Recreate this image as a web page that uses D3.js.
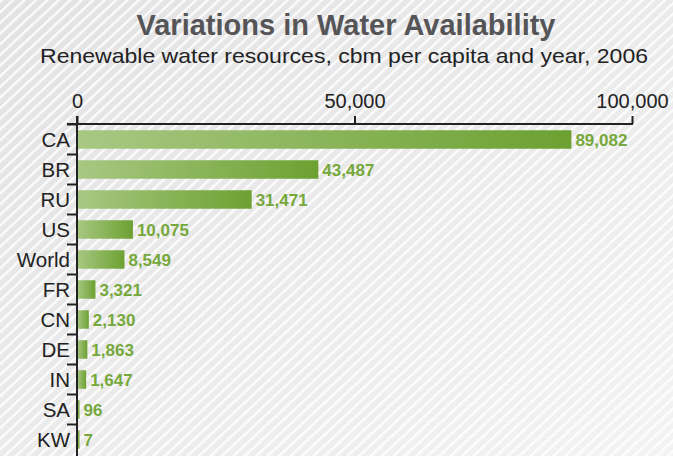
<!DOCTYPE html>
<html>
<head>
<meta charset="utf-8">
<script src="https://cdn.jsdelivr.net/npm/d3@7"></script>
<style>
  html, body { margin: 0; padding: 0; background: #e8e8ea; }
  svg { display: block; }
</style>
</head>
<body>
<svg id="chart" width="673" height="456"></svg>
<script>
const categories = ["CA", "BR", "RU", "US", "World", "FR", "CN", "DE", "IN", "SA", "KW"];
const values = [89082, 43487, 31471, 10075, 8549, 3321, 2130, 1863, 1647, 96, 7];
const tickValues = [0, 50000, 100000];
const title = "Variations in Water Availability";
const subtitle = "Renewable water resources, cbm per capita and year, 2006";

const W = 673, H = 456;
const svg = d3.select("#chart");
const defs = svg.append("defs");

// background gradient + stripes
const bg = defs.append("linearGradient").attr("id", "bgGrad")
  .attr("x1", 0).attr("y1", 0).attr("x2", 1).attr("y2", 1);
bg.append("stop").attr("offset", 0).attr("stop-color", "#e2e2e4");
bg.append("stop").attr("offset", 1).attr("stop-color", "#f3f3f3");

const pat = defs.append("pattern").attr("id", "stripes")
  .attr("patternUnits", "userSpaceOnUse")
  .attr("width", 7.8).attr("height", 10)
  .attr("patternTransform", "rotate(47)");
pat.append("rect").attr("x", 0).attr("y", 0).attr("width", 2.4).attr("height", 10)
  .attr("fill", "#ffffff").attr("fill-opacity", 0.85);

svg.append("rect").attr("width", W).attr("height", H).attr("fill", "url(#bgGrad)");
svg.append("rect").attr("width", W).attr("height", H).attr("fill", "url(#stripes)");

const barGrad = defs.append("linearGradient").attr("id", "barGrad")
  .attr("x1", 0).attr("y1", 0).attr("x2", 1).attr("y2", 0);
barGrad.append("stop").attr("offset", 0).attr("stop-color", "#a8c883");
barGrad.append("stop").attr("offset", 1).attr("stop-color", "#6ca131");

// titles
svg.append("text").attr("x", 346).attr("y", 35)
  .attr("text-anchor", "middle")
  .style("font-family", "'Liberation Sans', Arial, sans-serif")
  .style("font-weight", "bold").style("font-size", "29px")
  .attr("fill", "#555558").text(title);

svg.append("text").attr("x", 344).attr("y", 63)
  .attr("text-anchor", "middle")
  .attr("textLength", 608).attr("lengthAdjust", "spacingAndGlyphs")
  .style("font-family", "'Liberation Sans', Arial, sans-serif")
  .style("font-size", "21px")
  .attr("fill", "#222").text(subtitle);

// scales
const x = d3.scaleLinear().domain([0, 100000]).range([77, 632]);
const y = d3.scaleBand().domain(categories).range([124, 454])
  .paddingInner(0.383).paddingOuter(0.1915);

const font = "'Liberation Sans', Arial, sans-serif";

// bars
svg.append("g").selectAll("rect").data(values).join("rect")
  .attr("x", x(0))
  .attr("y", (d, i) => y(categories[i]) + 0.5)
  .attr("width", d => Math.max(2.5, x(d) - x(0)))
  .attr("height", y.bandwidth())
  .attr("fill", "url(#barGrad)");

// value labels
svg.append("g").selectAll("text").data(values).join("text")
  .attr("x", d => x(0) + Math.max(2.5, x(d) - x(0)) + 4)
  .attr("y", (d, i) => y(categories[i]) + y.bandwidth() / 2 + 6.5)
  .style("font-family", font).style("font-weight", "bold").style("font-size", "17px")
  .attr("fill", "#76a83b")
  .text(d => d3.format(",")(d));

// top axis
const xAxis = d3.axisTop(x).tickValues(tickValues).tickFormat(d3.format(","))
  .tickSize(8).tickSizeOuter(0).tickPadding(8);
const gx = svg.append("g").attr("transform", "translate(0,124)").call(xAxis);
gx.select(".domain").remove();
gx.selectAll(".tick line").attr("stroke", "#222").attr("stroke-width", 2);
gx.selectAll(".tick text").style("font-family", font).style("font-size", "20px")
  .attr("fill", "#222");
gx.append("line").attr("x1", 67).attr("x2", x(100000) + 1).attr("y1", 0).attr("y2", 0)
  .attr("stroke", "#222").attr("stroke-width", 2);

// left axis: vertical line and boundary ticks
const step = y.step();
const boundaries = categories.map(c => y(c) - (step - y.bandwidth()) / 2 + 0.5);
const gy = svg.append("g");
gy.append("line").attr("x1", x(0)).attr("x2", x(0)).attr("y1", 116).attr("y2", H)
  .attr("stroke", "#222").attr("stroke-width", 2);
gy.selectAll("line.tk").data(boundaries).join("line").attr("class", "tk")
  .attr("x1", 67).attr("x2", x(0)).attr("y1", d => d).attr("y2", d => d)
  .attr("stroke", "#222").attr("stroke-width", 2);
gy.selectAll("text").data(categories).join("text")
  .attr("x", 70).attr("y", d => y(d) + y.bandwidth() / 2 + 7.5)
  .attr("text-anchor", "end")
  .style("font-family", font).style("font-size", "20.5px")
  .attr("fill", "#222").text(d => d);
</script>
</body>
</html>
